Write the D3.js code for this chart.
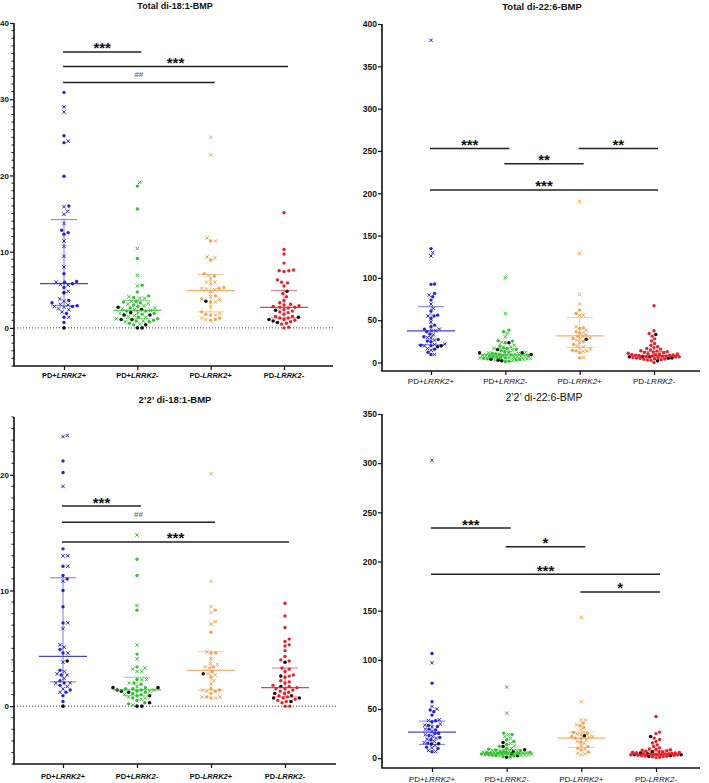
<!DOCTYPE html>
<html><head><meta charset="utf-8">
<script src="https://cdn.jsdelivr.net/npm/d3@7"></script>
<style>body{margin:0;background:#fff}svg{display:block}</style>
</head><body>
<svg id="chart" width="709" height="783"></svg>
<script>
// ---------------- DATA ----------------
const categories = ["PD+LRRK2+", "PD+LRRK2-", "PD-LRRK2+", "PD-LRRK2-"];
const groupColors = ["#2424d8", "#33c233", "#f5a352", "#e8202a"];

// Panel A: Total di-18:1-BMP
const t181Dots = [
  [30.9, 25.2, 24.3, 19.9, 16.0, 12.8, 12.3, 12.5, 7.1, 6.0, 6.1, 5.8, 5.3, 3.6, 3.3, 2.9, 2.8, 1.9, 1.4, 0.7],
  [18.6, 15.6, 9.1, 5.6, 4.7, 4.2, 4.0, 3.3, 3.0, 3.4, 2.8, 2.2, 2.2, 1.9, 1.8, 1.4, 1.2, 1.0, 0.9, 0.8, 0.6, 0.4, 2.6, 3.5],
  [11.4, 8.9, 7.1, 6.8, 5.2, 5.3, 4.2, 3.8, 3.4, 2.1, 1.7, 1.8, 1.3, 1.1, 1.0],
  [15.1, 10.3, 9.7, 8.5, 7.6, 7.5, 7.4, 7.5, 6.3, 6.0, 5.9, 5.5, 4.5, 4.1, 3.6, 3.3, 3.1, 3.0, 2.9, 2.8, 2.7, 2.7, 2.6, 2.4, 2.2, 2.1, 2.0, 1.8, 1.5, 1.5, 1.3, 1.3, 1.1, 1.0, 0.8, 0.6, 0.5, 0.1, 0.0]
];
const t181Crosses = [
  [29.0, 28.3, 24.5, 15.9, 15.3, 14.9, 13.7, 11.4, 10.7, 9.4, 8.0, 6.0, 5.6, 5.7, 4.8, 3.8, 3.5, 3.1, 2.8, 3.0, 2.5, 2.4, 2.7, 2.1, 1.4],
  [19.1, 10.4, 6.9, 5.5, 4.1, 3.9, 3.9, 3.5, 3.2, 3.1, 2.5, 2.6, 2.4, 2.3, 2.0, 1.9, 1.6, 1.4, 1.2, 0.9, 0.8, 0.5, 2.9, 1.5],
  [25.0, 22.7, 11.8, 11.4, 9.3, 9.2, 6.9, 6.4, 6.0, 6.0, 5.8, 5.2, 4.8, 5.1, 5.0, 4.1, 3.7, 3.4, 2.8, 1.9, 1.7, 1.3, 1.1],
  []
];
const t181Black = [[4.6, 0.0], [2.4, 2.7, 2.0, 1.7, 1.7, 1.1, 1.1, 0.4, 0.0, 0.0], [3.5], [4.8, 2.3, 1.4, 1.1, 0.9, 0.7]];
const t181Stats = [[2.9, 5.8, 14.2], [1.2, 2.3, 3.6], [2.1, 4.9, 7.0], [1.3, 2.7, 4.9]]; // [q1, median, q3]
const t181Ticks = [0, 10, 20, 30, 40];
const t181Sig = [
  {from: 0, to: 1, value: 36.2, label: "***"},
  {from: 0, to: 3, value: 34.3, label: "***"},
  {from: 0, to: 2, value: 32.2, label: "##"}
];

// Panel B: Total di-22:6-BMP
const t226Dots = [
  [134.6, 92.4, 92.8, 81.7, 77.8, 73.8, 60.8, 56, 54.9, 52.1, 44.2, 42.2, 39.5, 36.3, 33.6, 30.4, 27.2, 25.3, 24.5, 20.5, 19.7, 15.8, 12.2, 9.5],
  [38.3, 36.3, 25.7, 25.3, 23.3, 19.5, 17.5, 15.5, 14, 12.5, 11, 10.5, 9.8, 9, 8.5, 8, 7.5, 7, 6.5, 6, 5.5, 5, 4.5, 3.5, 3, 1.6, 1.2, 13, 16.5],
  [62, 58, 40.3, 36.3, 41, 31.2, 35, 21.3, 14.6, 13.8, 11.8, 5.5, 25, 28.5],
  [67.1, 37.5, 34.3, 31.2, 28, 25.5, 22.5, 20.5, 18.6, 17.5, 16.5, 15.8, 15, 14, 13.5, 12.5, 12, 11.5, 11, 10.5, 10, 9.5, 9.2, 9, 8.7, 8.4, 8, 7.7, 7.4, 7, 6.6, 6.2, 5.8, 5.4, 5, 4.6, 4.2, 3.8, 3.4, 3, 2.6, 0, 12.8, 10.2, 8.8, 6.8]
];
const t226Crosses = [
  [380.7, 129.9, 125.9, 79.7, 69.1, 64, 47.8, 39.5, 37.5, 37.5, 32.8, 29.6, 29.2, 26.5, 21.3, 21.7, 19.7, 16.6, 14.6, 9.5, 55],
  [100.3, 58, 34.3, 30.4, 24, 20.5, 18.6, 16.6, 14.5, 12, 10.7, 9.8, 8.7, 8.2, 7.6, 6.7, 6.2, 5.9, 5.5, 5.0, 4.5, 4.0, 3.2, 2.5, 7.2, 9.2, 11.5],
  [190.3, 129.1, 80.5, 69.1, 56, 55.7, 42.2, 38.3, 35.5, 32.4, 31.2, 29.2, 28, 26.5, 23.7, 19.7, 18.6, 15.8, 13.8, 13.4, 5.9, 16.5],
  []
];
const t226Black = [[18.6, 19.7], [23.3, 15.4, 11.4, 11.4, 9.5, 3.9, 2.8, 2.0], [27.6], [33.2, 7.5, 6.7, 6.7, 5.5, 5, 2]];
const t226Stats = [[21, 37.5, 66], [5.5, 9, 17], [18, 31.5, 53], [5.5, 8, 13]];
const t226Ticks = [0, 50, 100, 150, 200, 250, 300, 350, 400];
const t226Sig = [
  {from: 0, to: 1, value: 253, label: "***"},
  {from: 1, to: 2, value: 235, label: "**"},
  {from: 2, to: 3, value: 253, label: "**"},
  {from: 0, to: 3, value: 204, label: "***"}
];

// Panel C: 2'2' di-18:1-BMP
const d181Dots = [
  [21.2, 20.2, 13.6, 12.1, 11.3, 11.0, 10.0, 8.6, 7.2, 4.9, 4.6, 3.1, 2.7, 2.2, 2.0, 1.8, 1.4, 1.2, 0.9, 0.4],
  [12.7, 11.3, 8.3, 4.5, 3.4, 2.0, 1.9, 1.6, 1.5, 1.5, 1.4, 1.3, 1.2, 1.1, 0.9, 0.7, 0.5, 0.3, 0.2, 2.3, 1.0],
  [8.3, 6.4, 4.6, 4.6, 3.4, 3.0, 2.5, 1.5, 1.4, 1.3, 1.1, 0.7, 0.8],
  [8.9, 7.8, 6.8, 5.8, 5.6, 5.3, 5.2, 4.8, 4.3, 4.0, 3.9, 3.3, 3.2, 3.0, 2.7, 2.6, 2.5, 2.2, 2.1, 2.0, 1.8, 1.7, 1.6, 1.5, 1.5, 1.4, 1.3, 1.2, 1.1, 0.9, 0.8, 0.7, 0.6, 0.5, 0.4, 0.3, 0.0, 0.0]
];
const d181Crosses = [
  [23.3, 23.4, 19.0, 13.0, 13.0, 12.1, 10.8, 7.2, 6.7, 5.1, 4.6, 3.8, 3.0, 2.8, 2.7, 2.4, 2.0, 2.0, 1.7, 1.5, 1.2, 5.3],
  [14.8, 8.7, 5.3, 4.1, 3.3, 3.2, 3.0, 3.0, 2.3, 2.3, 2.0, 1.7, 1.4, 1.3, 1.0, 0.8, 0.7, 0.6, 0.1],
  [20.1, 10.8, 8.6, 8.1, 7.3, 7.1, 4.7, 4.1, 3.7, 3.6, 3.3, 3.4, 2.8, 2.7, 2.2, 1.9, 1.3, 1.4, 0.7, 0.8, 0.8],
  []
];
const d181Black = [[3.9, 0.0], [1.6, 1.6, 1.4, 1.3, 1.2, 0.9, 0.3, 0.0, 0.0], [2.8], [3.8, 2.6, 1.7, 1.1, 0.9, 0.7, 0.7, 0.4]];
const d181Stats = [[2.1, 4.3, 11.1], [0.9, 1.4, 2.5], [1.4, 3.1, 4.7], [0.8, 1.6, 3.3]];
const d181Ticks = [0, 10, 20];
const d181Sig = [
  {from: 0, to: 1, value: 17.3, label: "***"},
  {from: 0, to: 2, value: 15.9, label: "##"},
  {from: 0, to: 3, value: 14.2, label: "***"}
];

// Panel D: 2'2' di-22:6-BMP
const d226Dots = [
  [106.5, 76.3, 57.3, 47.2, 49, 43.8, 38, 37, 33.3, 32.2, 29.5, 28.8, 25.4, 25, 23, 21, 18.7, 15.3, 11.2, 9.8, 6.5],
  [25.5, 24, 18.7, 17, 14, 12, 10, 9, 8, 7.5, 7, 6.5, 6, 5.8, 5.4, 5, 4.6, 4.2, 3.8, 3.4, 3, 2.6, 2.2, 1.7, 1.2, 4.8, 6.2],
  [35.6, 31.2, 26.1, 25.4, 22, 20.4, 16.3, 11.9, 10.2, 8.5, 6.1, 33, 20],
  [42.4, 26.5, 25, 20.4, 19, 17, 15.5, 13.5, 11.9, 10.5, 9.5, 8.5, 8, 7.5, 7, 6.5, 6.2, 5.8, 5.5, 5.2, 5, 4.7, 4.4, 4.2, 4, 3.8, 3.5, 3.3, 3, 2.8, 2.5, 2.2, 2, 1.7, 1.4, 1, 0.6, 9, 6, 4.5, 3.6]
];
const d226Crosses = [
  [302.9, 97, 52.6, 49.9, 39, 38.3, 34.6, 33.5, 32, 29.5, 27.1, 23.8, 22, 20.4, 19.3, 17, 15.9, 12.9, 10.5, 7.8, 6.8],
  [72.3, 45.8, 23.8, 22, 20, 15, 12.5, 10, 8, 7.5, 6.8, 6, 5.5, 5.1, 4.7, 4.4, 4, 3.6, 3.2, 2.8, 2.4, 5.3, 4.2],
  [143.2, 57.3, 38.7, 38.7, 33.9, 28.8, 26.5, 23.8, 22, 18.7, 17, 15.3, 12.6, 9.2, 5.1, 4.4, 3.4, 24.5, 21],
  []
];
const d226Black = [[14.6, 14.3], [15.9, 11.9, 8.5, 6.4, 4.4, 2.4, 1.0], [22.7], [22, 6.8, 5.1, 4.4, 3.4, 3.4, 2.4, 1.7]];
const d226Stats = [[14, 26.5, 37.7], [3.5, 5.2, 9], [11, 20.4, 26.5], [2.5, 4, 7.5]];
const d226Ticks = [0, 50, 100, 150, 200, 250, 300, 350];
const d226Sig = [
  {from: 0, to: 1, value: 234, label: "***"},
  {from: 1, to: 2, value: 215, label: "*"},
  {from: 0, to: 3, value: 187, label: "***"},
  {from: 2, to: 3, value: 169, label: "*"}
];

// ---------------- LAYOUT ----------------
const panels = [
  {title: "Total di-18:1-BMP", dots: t181Dots, crosses: t181Crosses, black: t181Black, stats: t181Stats, ticks: t181Ticks, sig: t181Sig,
   domain: [-5, 40], minorStep: 1, zeroLine: true, axisX: 14, right: 333, top: 23, bottom: 366, catRange: [64, 284], gap: 4.3,
   titleX: 175, titleY: 9, titleSize: 9, titleWeight: "bold", tickWeight: "bold", tickSize: 8, labelY: 378, labelSize: 7.5, labelWeight: "bold"},
  {title: "Total di-22:6-BMP", dots: t226Dots, crosses: t226Crosses, black: t226Black, stats: t226Stats, ticks: t226Ticks, sig: t226Sig,
   domain: [-10, 400], minorStep: 0, zeroLine: false, axisX: 382, right: 700, top: 24, bottom: 371, catRange: [431, 654], gap: 3.6,
   titleX: 542, titleY: 10, titleSize: 9.5, titleWeight: "bold", tickWeight: "bold", tickSize: 8.5, labelY: 384, labelSize: 8, labelWeight: "normal"},
  {title: "2\u20192\u2019 di-18:1-BMP", dots: d181Dots, crosses: d181Crosses, black: d181Black, stats: d181Stats, ticks: d181Ticks, sig: d181Sig,
   domain: [-5, 25], minorStep: 1, zeroLine: true, axisX: 14, right: 336, top: 417, bottom: 764, catRange: [63, 285], gap: 4.3,
   titleX: 175, titleY: 403, titleSize: 9.5, titleWeight: "bold", tickWeight: "bold", tickSize: 8, labelY: 779, labelSize: 7.5, labelWeight: "bold"},
  {title: "2\u20192\u2019 di-22:6-BMP", dots: d226Dots, crosses: d226Crosses, black: d226Black, stats: d226Stats, ticks: d226Ticks, sig: d226Sig,
   domain: [-10, 350], minorStep: 0, zeroLine: false, axisX: 382, right: 700, top: 414, bottom: 768, catRange: [432, 656], gap: 3.6,
   titleX: 544, titleY: 401, titleSize: 10.5, titleWeight: "normal", tickWeight: "bold", tickSize: 8.5, labelY: 782, labelSize: 8, labelWeight: "normal"}
];

const FONT = "'Liberation Sans', Arial, Helvetica, sans-serif";
const svg = d3.select("#chart");

// beeswarm placement: nearest free offset within a maximum half-width,
// otherwise the offset with the largest clearance.
function swarm(items, y, cx, minDist, maxOff) {
  const placed = [];
  const sorted = items.slice().sort((a, b) => a.v - b.v);
  const offs = [0];
  for (let k = 1; k * 0.6 <= maxOff; k++) { offs.push(k * 0.6, -k * 0.6); }
  sorted.forEach(it => {
    const py = y(it.v);
    let best = null, bestClear = -1, chosen = null;
    for (const off of offs) {
      const cand = cx + off;
      let clear = Infinity;
      for (const p of placed) {
        const dy = p.py - py;
        if (Math.abs(dy) >= minDist) continue;
        const dx = p.px - cand;
        clear = Math.min(clear, Math.sqrt(dx * dx + dy * dy));
      }
      if (clear >= minDist) { chosen = cand; break; }
      if (clear > bestClear) { bestClear = clear; best = cand; }
    }
    const px = chosen !== null ? chosen : best;
    placed.push({...it, px, py});
  });
  return placed;
}

panels.forEach(P => {
  const g = svg.append("g");
  const y = d3.scaleLinear().domain(P.domain).range([P.bottom, P.top]);
  const x = d3.scalePoint().domain(categories).range(P.catRange);

  // title
  g.append("text").attr("x", P.titleX).attr("y", P.titleY).attr("text-anchor", "middle")
    .attr("font-family", FONT).attr("font-size", P.titleSize).attr("font-weight", P.titleWeight)
    .attr("fill", "#111").text(P.title);

  // zero dotted line
  if (P.zeroLine) {
    g.append("line").attr("x1", P.axisX).attr("x2", P.right).attr("y1", y(0)).attr("y2", y(0))
      .attr("stroke", "#444").attr("stroke-width", 1).attr("stroke-dasharray", "1,2");
  }

  // minor ticks
  if (P.minorStep) {
    const minors = d3.range(P.domain[0], P.domain[1] + 0.001, P.minorStep).filter(v => !P.ticks.includes(v));
    g.append("g").selectAll("line").data(minors).join("line")
      .attr("x1", P.axisX - 2.5).attr("x2", P.axisX).attr("y1", d => y(d)).attr("y2", d => y(d))
      .attr("stroke", "#111").attr("stroke-width", 1);
  }

  // y axis
  const yAxis = d3.axisLeft(y).tickValues(P.ticks).tickSize(4).tickPadding(1).tickSizeOuter(0);
  const ya = g.append("g").attr("transform", `translate(${P.axisX},0)`).call(yAxis);
  ya.select(".domain").attr("stroke", "#111").attr("stroke-width", 1.6)
    .attr("d", `M0,${P.top}V${P.bottom}`);
  ya.selectAll(".tick line").attr("stroke", "#111").attr("stroke-width", 1.2);
  ya.selectAll(".tick text").attr("font-family", FONT).attr("font-size", P.tickSize)
    .attr("font-weight", P.tickWeight).attr("fill", "#111");

  // x axis
  const xAxis = d3.axisBottom(x).tickSize(4).tickSizeOuter(0).tickFormat("");
  const xa = g.append("g").attr("transform", `translate(0,${P.bottom})`).call(xAxis);
  xa.select(".domain").attr("stroke", "#111").attr("stroke-width", 1.6)
    .attr("d", `M${P.axisX - 0.8},0H${P.right}`);
  xa.selectAll(".tick line").attr("stroke", "#111").attr("stroke-width", 1.2);

  // category labels (with italic gene)
  categories.forEach(c => {
    const t = g.append("text").attr("x", x(c)).attr("y", P.labelY).attr("text-anchor", "middle")
      .attr("font-family", FONT).attr("font-size", P.labelSize).attr("font-weight", P.labelWeight).attr("fill", "#111");
    t.append("tspan").text(c.slice(0, 3));
    t.append("tspan").attr("font-style", "italic").text(c.slice(3, 8));
    t.append("tspan").text(c.slice(8));
  });

  // points
  categories.forEach((c, i) => {
    const items = [];
    P.dots[i].forEach(v => items.push({v, type: "dot"}));
    P.crosses[i].forEach(v => items.push({v, type: "cross"}));
    P.black[i].forEach(v => items.push({v, type: "black"}));
    const pts = swarm(items, y, x(c), P.gap, 26);
    const col = groupColors[i];
    const pg = g.append("g");
    pg.selectAll("circle").data(pts.filter(p => p.type !== "cross")).join("circle")
      .attr("cx", p => p.px).attr("cy", p => p.py).attr("r", p => p.type === "black" ? 1.8 : 1.7)
      .attr("fill", p => p.type === "black" ? "#111" : col);
    pg.selectAll("path").data(pts.filter(p => p.type === "cross")).join("path")
      .attr("d", p => `M${p.px - 1.7},${p.py - 1.7}L${p.px + 1.7},${p.py + 1.7}M${p.px - 1.7},${p.py + 1.7}L${p.px + 1.7},${p.py - 1.7}`)
      .attr("stroke", col).attr("stroke-width", 1).attr("fill", "none");

    // median and IQR
    const [q1, med, q3] = P.stats[i];
    const cx = x(c);
    g.append("line").attr("x1", cx).attr("x2", cx).attr("y1", y(q1)).attr("y2", y(q3))
      .attr("stroke", col).attr("stroke-width", 1).attr("opacity", 0.6);
    [q1, q3].forEach(q => g.append("line").attr("x1", cx - 13).attr("x2", cx + 13).attr("y1", y(q)).attr("y2", y(q))
      .attr("stroke", col).attr("stroke-width", 1).attr("opacity", 0.6));
    g.append("line").attr("x1", cx - 24).attr("x2", cx + 24).attr("y1", y(med)).attr("y2", y(med))
      .attr("stroke", col).attr("stroke-width", 1.3).attr("opacity", 0.85);
  });

  // significance bars
  P.sig.forEach(s => {
    const x1 = x(categories[s.from]) - 1, x2 = x(categories[s.to]) + 4;
    const ly = y(s.value);
    g.append("line").attr("x1", x1).attr("x2", x2).attr("y1", ly).attr("y2", ly)
      .attr("stroke", "#222").attr("stroke-width", 1.5);
    const isHash = s.label.startsWith("#");
    g.append("text").attr("x", (x1 + x2) / 2).attr("y", isHash ? ly - 5 : ly + 1.5)
      .attr("text-anchor", "middle").attr("font-family", FONT)
      .attr("font-size", isHash ? 8 : 15).attr("font-weight", isHash ? "normal" : "bold")
      .attr("fill", isHash ? "#555" : "#111").text(s.label);
  });
});
</script>
</body></html>
